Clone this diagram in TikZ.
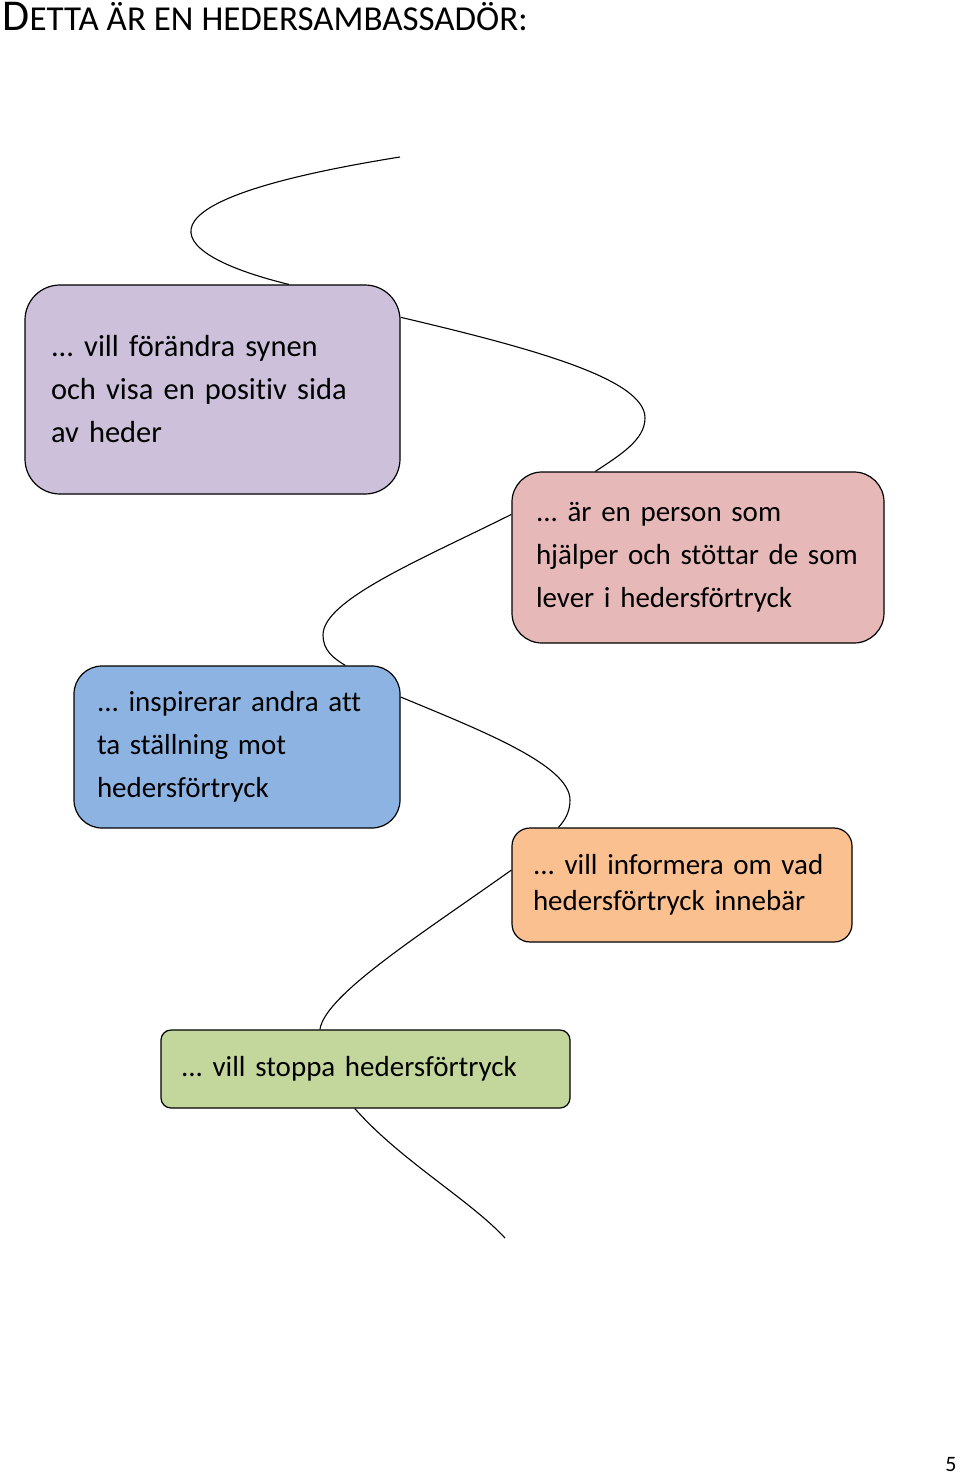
\documentclass[tikz,border=0pt]{standalone}
\usepackage{fontspec}
\setmainfont{Carlito}[Ligatures=NoCommon]
\definecolor{lilac}{HTML}{CCC0DA}
\definecolor{rose}{HTML}{E6B9B8}
\definecolor{sky}{HTML}{8DB3E2}
\definecolor{peach}{HTML}{FAC090}
\definecolor{sage}{HTML}{C3D69B}
\frenchspacing
\begin{document}
\begin{tikzpicture}[x=1pt,y=-1pt,line width=1.2pt,
  main node/.style={draw,align=left,font=\fontsize{29}{43}\selectfont},
  wave/.style={line width=1.1pt}]

  \useasboundingbox (0,0) rectangle (960,1473);

  \node[anchor=base west,inner sep=0] (title) at (2,30)
    {\fontsize{44}{44}\selectfont D\fontsize{35}{35}\selectfont ETTA ÄR EN HEDERSAMBASSADÖR:};

  \node[main node,fill=lilac,rounded corners=35pt,minimum width=375pt,minimum height=209pt,
    text width=323pt,inner xsep=26pt,font=\fontsize{30.5}{43}\selectfont] (1) at (212.5,389.5)
    {... vill förändra synen\\och visa en positiv sida\\av heder};
  \node[main node,fill=rose,rounded corners=30pt,minimum width=372pt,minimum height=171pt,
    text width=324pt,inner xsep=24pt] (2) at (698,557.5)
    {... är en person som\\hjälper och stöttar de som\\lever i hedersförtryck};
  \node[main node,fill=sky,rounded corners=28pt,minimum width=326pt,minimum height=162pt,
    text width=280pt,inner xsep=23pt] (3) at (237,747)
    {... inspirerar andra att\\ta ställning mot\\hedersförtryck};
  \node[main node,fill=peach,rounded corners=18pt,minimum width=340pt,minimum height=114pt,
    text width=298pt,inner xsep=21pt,font=\fontsize{29}{36}\selectfont] (4) at (682,885)
    {... vill informera om vad\\hedersförtryck innebär};
  \node[main node,fill=sage,rounded corners=10pt,minimum width=409pt,minimum height=78pt,
    text width=369pt,inner xsep=20pt] (5) at (365.5,1069)
    {... vill stoppa hedersförtryck};

  \coordinate (0) at (400,157);
  \coordinate (6) at (505,1238);

  \draw[wave] (0) .. controls (100,205) and (180,258) .. (1.54);
  \draw[wave] (1.21.4) .. controls (540,350) and (645,380) .. (645,418)
    .. controls (645,440) and (620,455) .. (2.140.3);
  \draw[wave] (2.167.4) .. controls (420,560) and (323,600) .. (323,635)
    .. controls (323,650) and (333,658) .. (3.37.4);
  \draw[wave] (3.17) .. controls (480,730) and (570,765) .. (570,800)
    .. controls (570,812) and (565,820) .. (4.155);
  \draw[wave] (4.175) .. controls (420,935) and (325,995) .. (5.139.4);
  \draw[wave] (5.255) .. controls (400,1160) and (470,1200) .. (6);

  \node[anchor=base east,inner sep=0] (page) at (957,1471) {\fontsize{22}{22}\selectfont 5};

\end{tikzpicture}
\end{document}
